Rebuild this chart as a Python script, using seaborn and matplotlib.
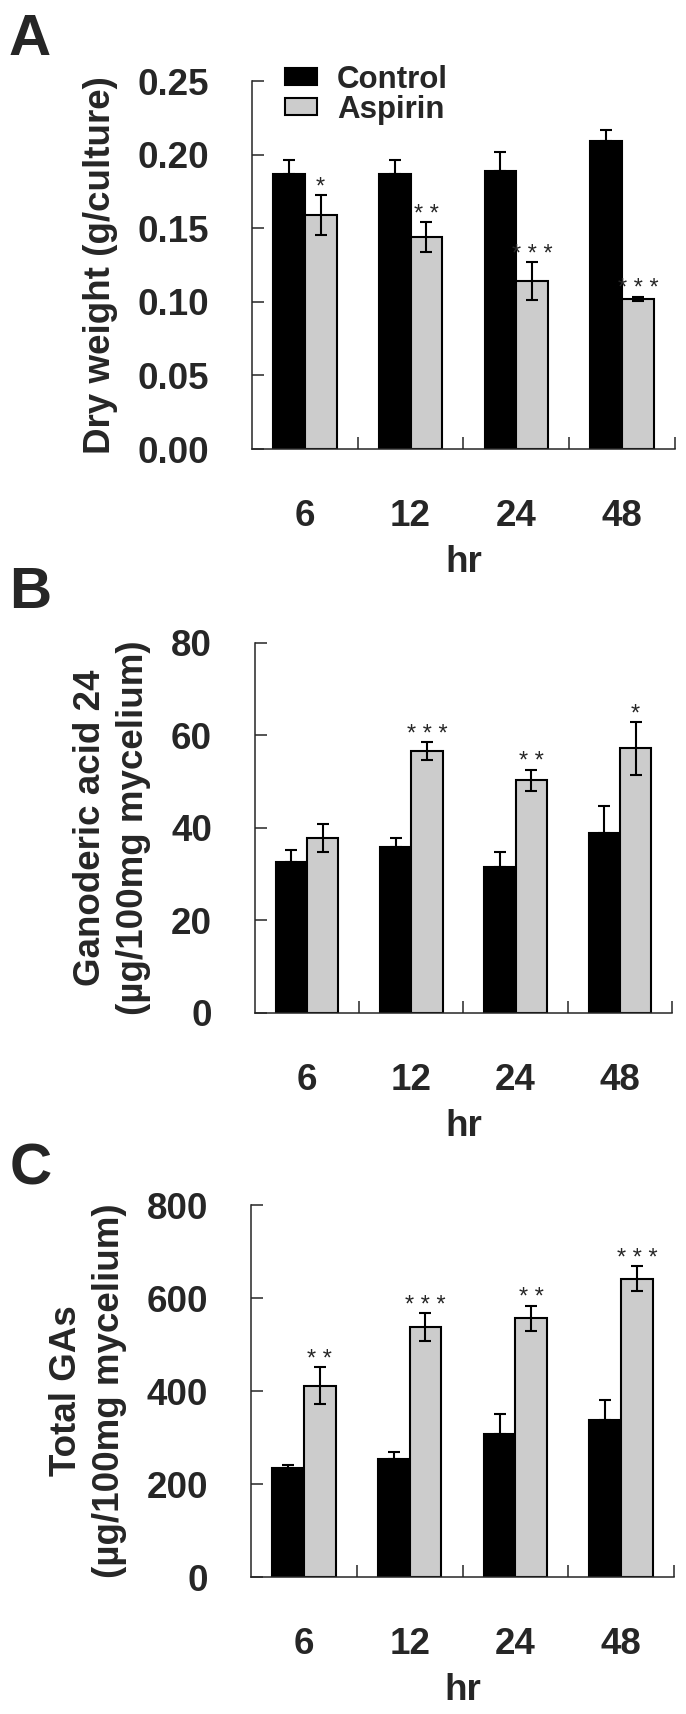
import pandas as pd
import matplotlib.pyplot as plt
import seaborn as sns
import numpy as np

hours = ['6', '12', '24', '48']
groups = ['Control', 'Aspirin']

# A - dry weight
dry_control = [0.187, 0.187, 0.189, 0.209]
dry_control_err = [0.0097, 0.0097, 0.013, 0.008]
dry_aspirin = [0.159, 0.144, 0.114, 0.102]
dry_aspirin_err = [0.0135, 0.010, 0.013, 0.0015]
dry_stars = ['*', '**', '***', '***']

# B - ganoderic acid 24
ga24_control = [32.7, 35.9, 31.6, 39.0]
ga24_control_err = [2.6, 2.0, 3.1, 5.8]
ga24_aspirin = [37.9, 56.6, 50.3, 57.2]
ga24_aspirin_err = [3.0, 2.0, 2.3, 5.7]
ga24_stars = ['', '***', '**', '*']

# C - total GAs
total_control = [234, 254, 307, 338]
total_control_err = [7, 15, 43, 42]
total_aspirin = [412, 537, 557, 642]
total_aspirin_err = [40, 30, 27, 26]
total_stars = ['**', '***', '**', '***']

sns.set_style('ticks')
plt.rcParams['font.family'] = ['Liberation Sans', 'DejaVu Sans']
plt.rcParams['font.weight'] = 'bold'
plt.rcParams['axes.linewidth'] = 1.1

fig = plt.figure(figsize=(6.86, 17.14), dpi=100)


def panel(rect, control, control_err, aspirin, aspirin_err, stars, ymax, step, fmt, ylabel, legend=False):
    ax = fig.add_axes(rect)
    df = pd.DataFrame({'hr': hours * 2,
                       'group': ['Control'] * 4 + ['Aspirin'] * 4,
                       'value': control + aspirin})
    sns.barplot(data=df, x='hr', y='value', hue='group', hue_order=groups, order=hours,
                palette={'Control': 'black', 'Aspirin': '#cccccc'}, width=0.6, gap=0,
                errorbar=None, edgecolor='black', linewidth=1.5, legend=legend, ax=ax)
    bars = list(ax.containers[:2])
    for cont, err, two_sided in zip(bars, [control_err, aspirin_err], [False, True]):
        xs = [b.get_x() + b.get_width() / 2 for b in cont]
        hs = [b.get_height() for b in cont]
        lower = err if two_sided else [0] * len(err)
        ax.errorbar(xs, hs, yerr=[lower, err], fmt='none', ecolor='black',
                    elinewidth=1.5, capsize=4.6, capthick=1.5)
    for b, e, s in zip(bars[1], aspirin_err, stars):
        if s:
            ax.annotate(' '.join(s), xy=(b.get_x() + b.get_width() / 2, b.get_height() + e),
                        xytext=(0, 1), textcoords='offset points', ha='center', va='baseline',
                        fontsize=17, fontweight='normal')

    ax.set_xlim(-0.5, 3.5)
    ax.set_ylim(0, ymax)
    ax.set_yticks(np.arange(0, ymax + step / 2, step))
    ax.set_yticklabels([fmt % v for v in np.arange(0, ymax + step / 2, step)])
    ax.set_xticks([0.5, 1.5, 2.5, 3.5], minor=True)
    ax.tick_params(axis='y', direction='in', length=8.6, width=1.1, pad=31, labelsize=26.5)
    ax.tick_params(axis='x', which='major', length=0, pad=36, labelsize=26.5)
    ax.tick_params(axis='x', which='minor', direction='in', length=8.6, width=1.1)
    sns.despine(ax=ax)
    ax.set_xlabel('hr', fontsize=26.5, fontweight='bold', labelpad=8)
    ax.set_ylabel(ylabel, fontsize=26.5, fontweight='bold', labelpad=14, linespacing=1.3)

    if legend:
        leg = ax.get_legend()
        handles = leg.legend_handles
        labels = [t.get_text() for t in leg.get_texts()]
        for h in handles:
            h.set_edgecolor('black')
            h.set_linewidth(1.5)
        ax.legend(handles, labels, loc='upper left', bbox_to_anchor=(0.078, 1.045),
                  frameon=False, prop={'weight': 'bold', 'size': 22.5},
                  handlelength=1.02, handleheight=0.45, handletextpad=0.64,
                  labelspacing=0.0, borderpad=0, borderaxespad=0)
    return ax


panel([0.3673, 0.738, 0.6166, 0.2147], dry_control, dry_control_err, dry_aspirin, dry_aspirin_err,
      dry_stars, 0.25, 0.05, '%.2f', 'Dry weight (g/culture)', legend=True)
panel([0.3717, 0.409, 0.6079, 0.2159], ga24_control, ga24_control_err, ga24_aspirin, ga24_aspirin_err,
      ga24_stars, 80, 20, '%d', 'Ganoderic acid 24\n(µg/100mg mycelium)')
panel([0.3659, 0.0799, 0.6166, 0.2170], total_control, total_control_err, total_aspirin, total_aspirin_err,
      total_stars, 800, 200, '%d', 'Total GAs\n(µg/100mg mycelium)')

fig.text(0.012, 0.968, 'A', fontsize=42, fontweight='bold', va='baseline', ha='left')
fig.text(0.014, 0.6453, 'B', fontsize=42, fontweight='bold', va='baseline', ha='left')
fig.text(0.014, 0.3092, 'C', fontsize=42, fontweight='bold', va='baseline', ha='left')

fig.savefig('out.png', dpi=100)
